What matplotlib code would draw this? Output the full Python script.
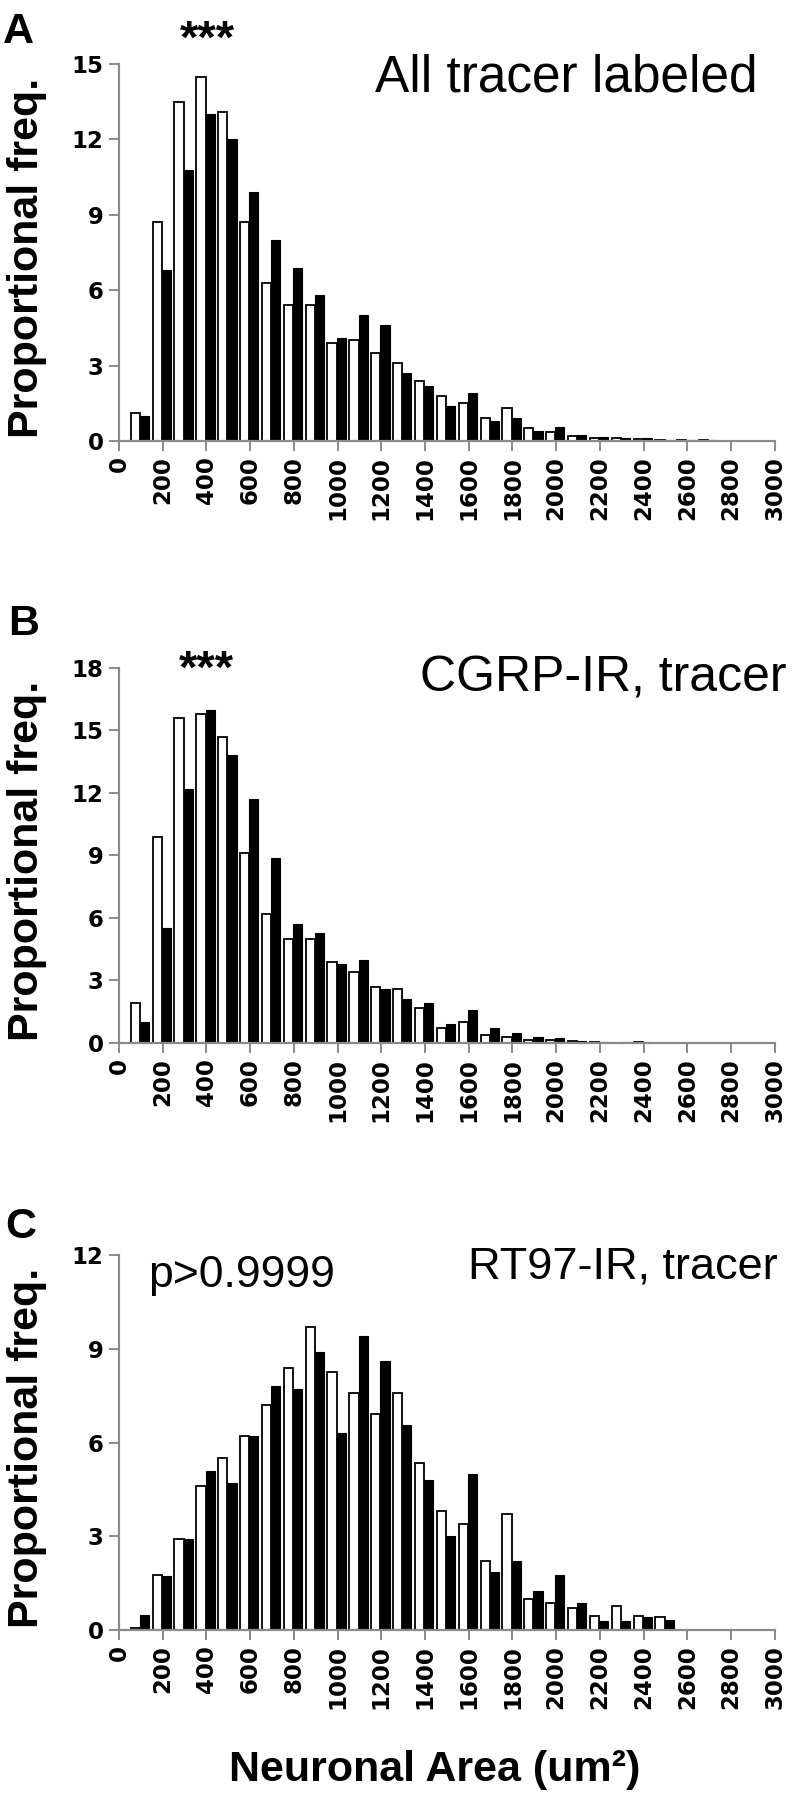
import numpy as np
import matplotlib
matplotlib.use('Agg')
import matplotlib.pyplot as plt

plt.rcParams['font.family'] = ['Liberation Sans', 'DejaVu Sans']

# %% data (proportional frequency per 100 um2 bin, bins labelled by upper edge)

bins = [100, 200, 300, 400, 500, 600, 700, 800, 900, 1000,
        1100, 1200, 1300, 1400, 1500, 1600, 1700, 1800, 1900, 2000,
        2100, 2200, 2300, 2400, 2500, 2600, 2700, 2800]

open_A = [1.1, 8.7, 13.5, 14.5, 13.1, 8.7, 6.3, 5.4, 5.4, 3.9,
          4.0, 3.5, 3.1, 2.4, 1.8, 1.5, 0.9, 1.3, 0.5, 0.35,
          0.2, 0.12, 0.1, 0.08, 0.05, 0.02, 0.03, 0.0]
filled_A = [1.0, 6.8, 10.8, 13.0, 12.0, 9.9, 8.0, 6.9, 5.8, 4.1,
            5.0, 4.6, 2.7, 2.2, 1.4, 1.9, 0.8, 0.9, 0.4, 0.55,
            0.25, 0.15, 0.12, 0.1, 0.05, 0.02, 0.03, 0.0]

open_B = [1.9, 9.9, 15.6, 15.8, 14.7, 9.1, 6.2, 5.0, 5.0, 3.9,
          3.4, 2.7, 2.6, 1.7, 0.7, 1.0, 0.4, 0.3, 0.15, 0.15,
          0.1, 0.05, 0.0, 0.05, 0.0, 0.0, 0.0, 0.0]
filled_B = [1.0, 5.5, 12.2, 16.0, 13.8, 11.7, 8.9, 5.7, 5.3, 3.8,
            4.0, 2.6, 2.1, 1.9, 0.9, 1.6, 0.7, 0.5, 0.3, 0.25,
            0.1, 0.05, 0.05, 0.05, 0.0, 0.0, 0.0, 0.0]

open_C = [0.08, 1.77, 2.9, 4.6, 5.5, 6.2, 7.2, 8.4, 9.7, 8.25,
          7.6, 6.9, 7.6, 5.35, 3.8, 3.4, 2.2, 3.7, 1.0, 0.86,
          0.71, 0.45, 0.76, 0.45, 0.43, 0.0, 0.0, 0.0]
filled_C = [0.47, 1.73, 2.9, 5.1, 4.7, 6.2, 7.8, 7.7, 8.9, 6.3,
            9.4, 8.6, 6.55, 4.8, 3.0, 5.0, 1.85, 2.2, 1.25, 1.77,
            0.86, 0.29, 0.3, 0.42, 0.31, 0.0, 0.0, 0.0]

x_ticks = list(range(0, 3001, 200))

panels = [
    # letter, title, note, open, filled, ymax, axes rect, title pos, title size
    ('A', 'All tracer labeled', '***', open_A, filled_A, 15,
     (0.150, 0.755, 0.827, 0.2094), (0.956, 0.9489), 37),
    ('B', 'CGRP-IR, tracer', '***', open_B, filled_B, 18,
     (0.150, 0.4206, 0.827, 0.2083), (0.992, 0.6156), 36),
    ('C', 'RT97-IR, tracer', 'p>0.9999', open_C, filled_C, 12,
     (0.150, 0.0944, 0.827, 0.2083), (0.981, 0.290), 32.5),
]

letter_pos = {'A': (0.004, 0.9935), 'B': (0.010, 0.6645), 'C': (0.007, 0.3295)}
note_pos = {'A': (0.261, 0.9772), 'B': (0.260, 0.6272), 'C': (0.1866, 0.285)}

# %% figure

fig = plt.figure(figsize=(7.93, 18.0), dpi=100)
x = np.array(bins)
w = 42
grey = '#8a8a8a'

for letter, title, note, yo, yf, ymax, rect, tpos, tsize in panels:
    ax = fig.add_axes(rect)
    ax.bar(x - w / 2 - 4, yo, width=w, facecolor='white', edgecolor='black', linewidth=1.3)
    ax.bar(x + w / 2 - 4, yf, width=w, facecolor='black', edgecolor='black', linewidth=0.8)
    ax.set_xlim(0, 3000)
    ax.set_ylim(0, ymax)
    ax.set_xticks(x_ticks)
    ax.set_xticklabels([str(t) for t in x_ticks], rotation=90,
                       fontsize=16.5, fontweight='bold', family='DejaVu Sans')
    ax.set_yticks(np.arange(0, ymax + 1, 3))
    ax.set_yticklabels([str(t) for t in range(0, ymax + 1, 3)],
                       fontsize=16.5, fontweight='bold', family='DejaVu Sans')
    for side in ('top', 'right'):
        ax.spines[side].set_visible(False)
    for side in ('left', 'bottom'):
        ax.spines[side].set_color(grey)
        ax.spines[side].set_linewidth(1.6)
    ax.tick_params(axis='both', colors=grey, length=7, width=1.4, pad=4)
    for lab in ax.get_xticklabels() + ax.get_yticklabels():
        lab.set_color('black')

    # y label, centred on axes
    l, b, wd, ht = rect
    fig.text(0.034, b + ht / 2 - 0.003, 'Proportional freq.', rotation=90, ha='center', va='center',
             fontsize=31, fontweight='bold')

    fig.text(tpos[0], tpos[1], title, ha='right', va='baseline', fontsize=tsize)
    lx, ly = letter_pos[letter]
    fig.text(lx, ly, letter, ha='left', va='top', fontsize=31, fontweight='bold')
    nx, ny = note_pos[letter]
    if note == '***':
        fig.text(nx, ny, note, ha='center', va='center', fontsize=34, fontweight='bold')
    else:
        fig.text(nx, ny, note, ha='left', va='baseline', fontsize=32)

fig.text(0.548, 0.0167, 'Neuronal Area (um²)', ha='center', va='center',
         fontsize=31, fontweight='bold')

plt.savefig('out.png', dpi=100)
